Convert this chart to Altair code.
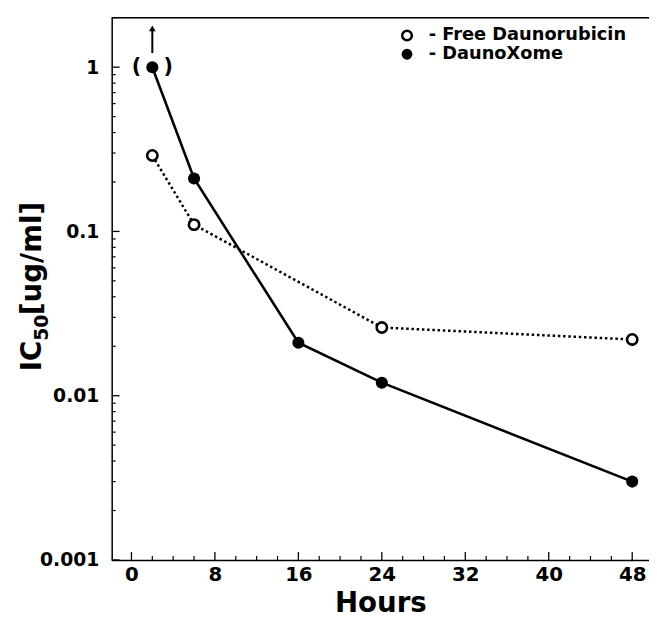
import altair as alt
import pandas as pd

# data
free_hours = [2, 6, 24, 48]
free_ic50 = [0.29, 0.11, 0.026, 0.022]
dx_hours = [2, 6, 16, 24, 48]
dx_ic50 = [1.0, 0.21, 0.021, 0.012, 0.003]

x_major = [0, 8, 16, 24, 32, 40, 48]
x_minor = [2, 4, 6, 10, 12, 14, 18, 20, 22, 26, 28, 30, 34, 36, 38, 42, 44, 46]
y_major = [0.001, 0.01, 0.1, 1]
y_minor = [m * d for d in [0.001, 0.01, 0.1, 1] for m in range(2, 10) if m * d <= 2.0]

arrow_hour = [2]
arrow_from = [1.22]
arrow_to = [1.72]

legend_labels = ["- Free Daunorubicin", "- DaunoXome"]

W, H = 544, 549
FONT = "DejaVu Sans"

free = pd.DataFrame({"h": free_hours, "v": free_ic50})
dx = pd.DataFrame({"h": dx_hours, "v": dx_ic50})

xs = alt.Scale(domain=[-1.893, 49.61], nice=False, zero=False)
ys = alt.Scale(type="log", domain=[0.001, 2.0], nice=False)

X = alt.X("h:Q", scale=xs,
          axis=alt.Axis(values=x_major, title="Hours", tickSize=0, grid=False,
                        labelFont=FONT, labelFontWeight="bold", labelFontSize=20,
                        labelPadding=5, titleFont=FONT, titleFontWeight="bold",
                        titleFontSize=28, titlePadding=5, domainColor="black",
                        domainWidth=1.5, labelColor="black", titleColor="black"))
Y = alt.Y("v:Q", scale=ys,
          axis=alt.Axis(values=y_major, title=None, tickSize=0, grid=False,
                        format="~g", labelFont=FONT, labelFontWeight="bold",
                        labelFontSize=19, labelPadding=13,
                        domainColor="black", domainWidth=1.5, labelColor="black"))

free_line = alt.Chart(free).mark_line(color="black", strokeWidth=2.5,
                                       strokeDash=[2.5, 2.8]).encode(x=X, y=Y)
dx_line = alt.Chart(dx).mark_line(color="black", strokeWidth=2.6).encode(x=X, y=Y)
free_pts = alt.Chart(free).mark_point(shape="circle", filled=True, fill="white",
                                      stroke="black", strokeWidth=2.6, size=110,
                                      opacity=1).encode(x="h:Q", y="v:Q")
dx_pts = alt.Chart(dx).mark_point(shape="circle", filled=True, color="black",
                                  size=150, opacity=1).encode(x="h:Q", y="v:Q")

# ticks (inward)
xmaj = alt.Chart(pd.DataFrame({"h": x_major})).mark_rule(color="black", strokeWidth=1.3).encode(
    x="h:Q", y=alt.value(H), y2=alt.value(H - 8))
xmin = alt.Chart(pd.DataFrame({"h": x_minor})).mark_rule(color="black", strokeWidth=1.2).encode(
    x="h:Q", y=alt.value(H), y2=alt.value(H - 4))
ymaj = alt.Chart(pd.DataFrame({"v": y_major})).mark_rule(color="black", strokeWidth=1.3).encode(
    y="v:Q", x=alt.value(0), x2=alt.value(8))
ymin = alt.Chart(pd.DataFrame({"v": y_minor})).mark_rule(color="black", strokeWidth=1.2).encode(
    y="v:Q", x=alt.value(0), x2=alt.value(4))

# top border
top = alt.Chart(pd.DataFrame({"a": [0]})).mark_rule(color="black", strokeWidth=1.5).encode(
    x=alt.value(0), x2=alt.value(W), y=alt.value(0))

# y-axis title built from pieces (IC, subscript 50, [ug/ml])
def vtext(txt, size, xpos, ypos):
    return alt.Chart(pd.DataFrame({"t": [txt]})).mark_text(
        angle=270, align="left", baseline="alphabetic", font=FONT,
        fontWeight="bold", fontSize=size, color="black").encode(
        text="t:N", x=alt.value(xpos), y=alt.value(ypos))

yt1 = vtext("IC", 28, -72, 358)
yt2 = vtext("50", 19, -65, 327)
yt3 = vtext("[ug/ml]", 28, -72, 301)

# arrow and parentheses on the first DaunoXome point
arr = pd.DataFrame({"h": arrow_hour, "v": arrow_from, "v2": arrow_to})
arrow_line = alt.Chart(arr).mark_rule(color="black", strokeWidth=2).encode(
    x="h:Q", y="v:Q", y2="v2:Q")
arrow_head = alt.Chart(arr).mark_point(shape="triangle-up", filled=True, color="black",
                                       size=45, opacity=1).encode(x="h:Q", y="v2:Q")
par = pd.DataFrame({"h": [dx_hours[0]], "v": [dx_ic50[0]]})
lpar = alt.Chart(par).mark_text(text="(", font=FONT, fontWeight="bold", fontSize=21,
                                dx=-16, dy=0, baseline="middle").encode(x="h:Q", y="v:Q")
rpar = alt.Chart(par).mark_text(text=")", font=FONT, fontWeight="bold", fontSize=21,
                                dx=16, dy=0, baseline="middle").encode(x="h:Q", y="v:Q")

# legend
leg_open = alt.Chart(pd.DataFrame({"a": [0]})).mark_point(
    shape="circle", filled=True, fill="white", stroke="black", strokeWidth=2.5,
    size=95, opacity=1).encode(x=alt.value(299), y=alt.value(18))
leg_fill = alt.Chart(pd.DataFrame({"a": [0]})).mark_point(
    shape="circle", filled=True, color="black", size=120, opacity=1).encode(
    x=alt.value(299), y=alt.value(37))
leg_t1 = alt.Chart(pd.DataFrame({"label": [legend_labels[0]]})).mark_text(
    align="left", baseline="middle", font=FONT, fontWeight="bold", fontSize=18,
    color="black").encode(text="label:N", x=alt.value(321), y=alt.value(18))
leg_t2 = alt.Chart(pd.DataFrame({"label": [legend_labels[1]]})).mark_text(
    align="left", baseline="middle", font=FONT, fontWeight="bold", fontSize=18,
    color="black").encode(text="label:N", x=alt.value(321), y=alt.value(37))

chart = alt.layer(
    free_line, dx_line, xmaj, xmin, ymaj, ymin, top, yt1, yt2, yt3,
    arrow_line, arrow_head, free_pts, dx_pts, lpar, rpar,
    leg_open, leg_fill, leg_t1, leg_t2
).properties(
    width=W, height=H,
    autosize=alt.AutoSizeParams(type="none"),
    padding={"left": 105, "top": 6, "right": 0, "bottom": 62},
).configure_view(stroke=None).configure(background="white")

chart.save("out.html", embed_options={"renderer": "svg", "actions": False})
